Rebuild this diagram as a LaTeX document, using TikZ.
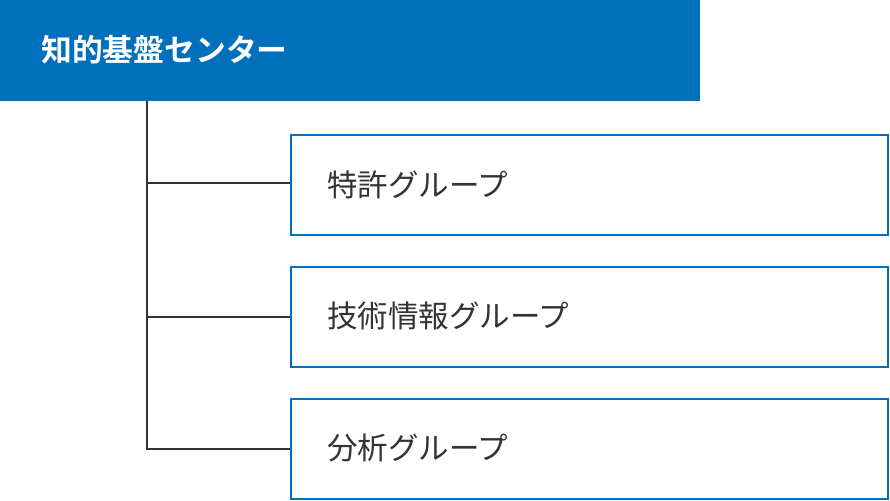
\documentclass[tikz,border=0pt]{standalone}
\usepackage{fontspec}
\newfontfamily\cjk{Noto Sans CJK JP}
\newfontfamily\cjkbold{Noto Sans CJK JP Bold}
\definecolor{mainblue}{HTML}{0070BD}
\definecolor{linegray}{HTML}{333333}
\begin{document}
\begin{tikzpicture}[x=1pt,y=-1pt,
  groupbox/.style={draw=mainblue,line width=2pt,fill=white},
  grouplabel/.style={anchor=west,inner sep=0pt,text=linegray,font=\cjk\fontsize{30.5}{36}\selectfont},
  conn/.style={draw=linegray,line width=2pt}]
\useasboundingbox (0,0) rectangle (890,500);
\fill[mainblue] (0,0) rectangle (700,101.5);
\node[anchor=west,inner sep=0pt,text=white,font=\cjkbold\fontsize{30.8}{36}\selectfont] (top) at (41,50) {知的基盤センター};
\coordinate (root) at (147,101.5);
\draw[groupbox] (291,135) rectangle (888,235);
\draw[groupbox] (291,267) rectangle (888,367);
\draw[groupbox] (291,399) rectangle (888,498.5);
\coordinate (b1) at (290,183);
\coordinate (b2) at (290,317);
\coordinate (b3) at (290,449);
\node[grouplabel] (g1) at (327,185) {特許グループ};
\node[grouplabel] (g2) at (327,316) {技術情報グループ};
\node[grouplabel] (g3) at (327,448) {分析グループ};
\draw[conn] (root) -- (147,449) -- (b3);
\draw[conn] (147,183) -- (b1);
\draw[conn] (147,317) -- (b2);
\end{tikzpicture}
\end{document}
